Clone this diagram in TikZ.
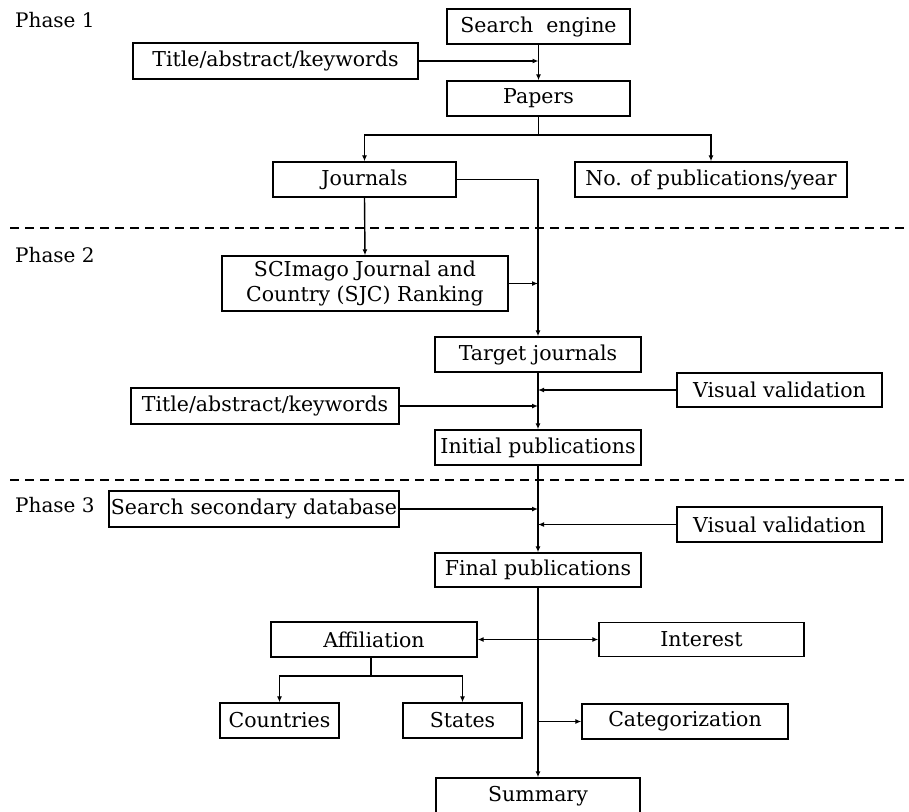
\documentclass[tikz,border=0pt]{standalone}
\usepackage{fontspec}
\setmainfont{DejaVu Serif}
\usetikzlibrary{arrows.meta}
\begin{document}
\begin{tikzpicture}[x=1pt,y=-1pt,
  box/.style={draw, line width=1.4pt, rectangle, inner sep=0pt, align=center,
    font=\fontsize{20.5}{25}\selectfont},
  arr/.style={line width=1.4pt, -{Latex[length=6pt,width=5pt]}},
  ln/.style={line width=1.4pt},
  phase/.style={anchor=west, inner sep=0pt, font=\fontsize{20}{24}\selectfont},
  sep/.style={line width=1.4pt, dash pattern=on 9pt off 6pt}]
\useasboundingbox (0,0) rectangle (909,811);
\clip (0,0) rectangle (909,811);
% phase labels
\node[phase] (ph1) at (15,20) {Phase 1};
\node[phase] (ph2) at (15,255) {Phase 2};
\node[phase] (ph3) at (15,505) {Phase 3};
% separators
\coordinate (d1a) at (10,228); \coordinate (d1b) at (909,228);
\coordinate (d2a) at (10,480); \coordinate (d2b) at (909,480);
\draw[sep] (d1a) -- (d1b);
\draw[sep] (d2a) -- (d2b);
% nodes
\node[box, minimum width=183pt, minimum height=35pt] (se) at (538.5,26.5) {Search\ \ engine};
\node[box, minimum width=285pt, minimum height=36pt] (t1) at (275.5,61) {Title/abstract/keywords};
\node[box, minimum width=183pt, minimum height=35pt] (pap) at (538.5,98.5) {Papers};
\node[box, minimum width=183pt, minimum height=35pt] (jr) at (364.5,179.5) {Journals};
\node[box, minimum width=272pt, minimum height=35pt] (nop) at (711,179.5) {No. of publications/year};
\node[box, minimum width=286pt, minimum height=55pt] (sjc) at (365,283.5) {SCImago Journal and\\Country (SJC) Ranking};
\node[box, minimum width=206pt, minimum height=35pt] (tj) at (538,354.5) {Target journals};
\node[box, minimum width=205pt, minimum height=34pt] (vv1) at (779.5,390) {Visual validation};
\node[box, minimum width=268pt, minimum height=36pt] (t2) at (265,406) {Title/abstract/keywords};
\node[box, minimum width=206pt, minimum height=35pt] (ip) at (538,447.5) {Initial publications};
\node[box, minimum width=290pt, minimum height=36pt] (ssd) at (254,509) {Search secondary database};
\node[box, minimum width=205pt, minimum height=35pt] (vv2) at (779.5,524.5) {Visual validation};
\node[box, minimum width=206pt, minimum height=34pt] (fp) at (538,570) {Final publications};
\node[box, minimum width=206pt, minimum height=35pt] (aff) at (374,639.5) {Affiliation};
\node[box, minimum width=205pt, minimum height=34pt] (int) at (701.5,639.5) {Interest};
\node[box, minimum width=119pt, minimum height=35pt] (cou) at (279.5,720.5) {Countries};
\node[box, minimum width=119pt, minimum height=35pt] (sta) at (462.5,720.5) {States};
\node[box, minimum width=206pt, minimum height=35pt] (cat) at (685,721.5) {Categorization};
\node[box, minimum width=204pt, minimum height=36pt] (sum) at (538,796) {Summary};
% connectors phase 1
\draw[arr] (se.south) -- (pap.north);
\draw[arr] (t1.east) -- (t1.east -| se.south);
\coordinate (s1) at (538.5,135);
\draw[ln] (pap.south) -- (s1);
\draw[arr] (s1) -| (jr.north);
\draw[arr] (s1) -| (nop.north);
\draw[arr] (jr.east) -| (tj.north);
% phase 2
\draw[arr] (jr.south) -- (sjc.north);
\draw[arr] (sjc.east) -- (sjc.east -| tj.north);
\draw[arr] (tj.south) -- (ip.north);
\draw[arr] (vv1.west) -- (vv1.west -| tj.south);
\draw[arr] (t2.east) -- (t2.east -| tj.south);
% phase 3
\draw[arr] (ip.south) -- (fp.north);
\draw[arr] (ssd.east) -- (ssd.east -| ip.south);
\draw[arr] (vv2.west) -- (vv2.west -| ip.south);
\draw[arr] (fp.south) -- (sum.north);
\coordinate (m1) at (aff.east -| fp.south);
\draw[arr] (m1) -- (aff.east);
\draw[arr] (m1) -- (int.west);
\coordinate (s2) at (371,676);
\draw[ln] (s2 |- aff.south) -- (s2);
\draw[arr] (s2) -| (cou.north);
\draw[arr] (s2) -| (sta.north);
\draw[arr] (cat.west -| fp.south) -- (cat.west);
\end{tikzpicture}
\end{document}
